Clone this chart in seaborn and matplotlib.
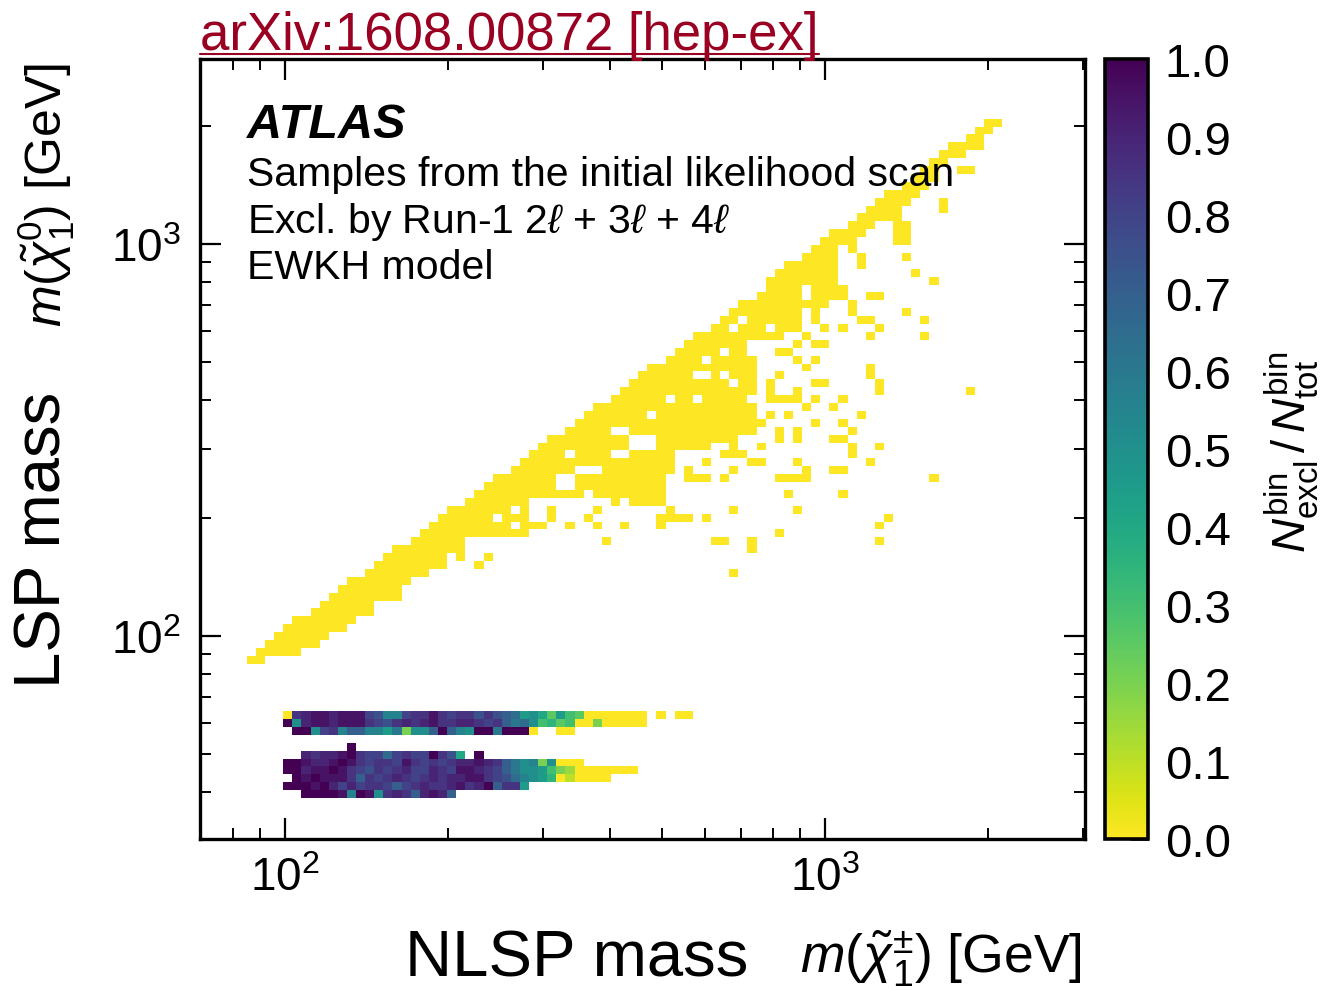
import numpy as np
import pandas as pd
import matplotlib
matplotlib.use("Agg")
import matplotlib.pyplot as plt
from matplotlib.ticker import LogLocator, NullFormatter
from matplotlib.lines import Line2D
import seaborn as sns

# ---------------- binning of the 2D histogram (log10 of mass / GeV) ----------------
NLSP_LOG_START, NLSP_LOG_WIDTH = 1.99685, 0.016852
LSP_LOG_START, LSP_LOG_WIDTH = 1.58673, 0.020153

# ---------------- not-excluded samples (fraction 0): diagonal band ----------------
band_nlsp_bin = list(range(-4, 79))
band_lsp_top = [17, 18, 19, 20, 21, 22, 22, 23, 24, 25, 26, 27, 27, 28, 29, 30, 31, 31,
                32, 33, 34, 35, 36, 36, 37, 38, 39, 40, 40, 41, 42, 43, 44, 45, 45, 46,
                47, 48, 49, 49, 50, 51, 52, 53, 54, 54, 55, 56, 57, 58, 58, 59, 60, 61,
                62, 62, 63, 65, 66, 67, 67, 68, 69, 70, 71, 71, 72, 73, 74, 75, 76, 76,
                77, 78, 79, 80, 81, 82, 82, 83, 84, 85, 85]
band_lsp_bottom = [17, 17, 18, 18, 18, 18, 19, 19, 20, 21, 21, 22, 23, 23, 25, 25, 25, 27,
                   28, 28, 29, 29, 31, 30, 33, 33, 33, 33, 33, 33, 33, 38, 38, 38, 38, 38,
                   38, 39, 38, 38, 37, 38, 37, 37, 37, 37, 41, 44, 44, 44, 44, 45, 45, 45,
                   46, 46, 58, 58, 58, 59, 59, 62, 60, 62, 63, 70, 69, 71, 72, 73, 73, 70,
                   75, 76, 77, 78, 80, 81, 81, 82, 82, 84, 85]

# empty cells inside the band
hole_nlsp_bin = [23, 25, 25, 30, 31, 30, 31, 31, 32, 33, 34, 36, 37, 38, 39, 40, 38, 39, 40,
                 36, 37, 40, 42, 45, 51, 45, 46, 48, 49, 46, 48, 49, 50, 51, 51, 53, 57, 57]
hole_lsp_bin = [35, 36, 34, 39, 39, 40, 40, 43, 41, 41, 41, 43, 43, 44, 44, 44, 45, 45, 45,
                46, 46, 48, 50, 50, 50, 53, 53, 53, 52, 55, 56, 59, 60, 56, 57, 59, 63, 64]

# isolated cells below the band
dot_nlsp_bin = [68, 70, 70, 61, 64, 65, 63, 64, 62, 62, 59, 58, 59, 57, 56, 54, 55, 56, 58,
                57, 54, 53, 53, 58, 59, 64, 64, 65, 65, 56, 56, 53, 54, 55, 58, 61, 57, 60,
                63, 65, 58, 61, 62, 60, 61, 62, 62, 64, 60, 61, 71, 61, 54, 55, 56, 57, 57,
                56, 55, 56, 66, 65, 65, 54, 51, 51, 47, 48, 49, 35, 49, 46, 42, 42, 43, 44,
                41, 41, 37, 34, 33, 34, 31, 28, 29, 29, 21, 22, 27, 44, 45, 46, 44, 48, 49,
                46, 48, 52, 51, 52, 49, 49, 50, 54, 54, 56, 56, 49, 50, 51, 52, 49, 53, 55,
                61, 61, 64, 65, 68, 69, 71, 72, 72, 74, 75, 75, 63, 63, 68, 68, 68, 52]
dot_lsp_bin = [61, 60, 58, 59, 58, 59, 60, 60, 61, 62, 59, 57, 57, 58, 57, 56, 56, 55, 55,
               54, 53, 51, 52, 52, 52, 53, 54, 51, 52, 50, 51, 50, 50, 50, 50, 50, 49, 49,
               48, 44, 47, 47, 46, 45, 45, 43, 44, 42, 41, 41, 40, 38, 40, 40, 40, 40, 41,
               42, 38, 36, 35, 34, 32, 33, 31, 32, 32, 32, 28, 32, 36, 35, 35, 36, 35, 35,
               34, 35, 34, 34, 35, 36, 34, 34, 35, 36, 29, 30, 34, 40, 40, 40, 41, 40, 41,
               42, 43, 44, 42, 42, 43, 44, 43, 45, 46, 45, 46, 47, 47, 47, 47, 48, 48, 48,
               63, 64, 63, 63, 68, 66, 65, 74, 75, 79, 79, 51, 67, 68, 70, 71, 72, 47]

# ---------------- excluded region: fraction per cell, one list per LSP bin ----------------
nan = np.nan
frac_lsp0 = [1.0, 1.0, 1.0, 1.0, 0.95, 0.55, 1.0, 0.95, 0.5, 0.85,
             0.9, 0.85, 0.7, 0.9, 0.95, 0.9, 0.7]
frac_lsp1 = [1.0, 1.0, 1.0, 0.95, 1.0, 0.9, 0.8, 0.9, 0.8, 0.85,
             0.85, 0.8, 0.7, 0.8, 0.85, 0.9, 0.85, 0.85, 0.9, 0.95,
             0.85, 0.9, 1.0, 0.7, 0.85, 0.85, 0.45]
frac_lsp2 = [1.0, 0.95, 1.0, 0.95, 0.95, 0.95, 0.85, 0.7, 0.85, 0.8,
             0.85, 0.9, 0.85, 0.8, 0.85, 0.9, 0.85, 0.9, 0.9, 0.95,
             0.95, 0.85, 0.8, 0.75, 0.65, 0.55, 0.5, 0.45, 0.35, 0.0,
             0.1, 0.0, 0.0, 0.0, 0.0]
frac_lsp3 = [1.0, 1.0, 0.9, 0.95, 0.95, 1.0, 0.95, 0.85, 0.8, 0.75,
             0.85, 0.8, 0.85, 0.9, 0.8, 0.8, 0.9, 0.85, 0.8, 0.95,
             0.95, 0.9, 0.85, 0.8, 0.7, 0.6, 0.5, 0.5, 0.45, 0.3,
             0.2, 0.15, 0.0, 0.0, 0.0, 0.0, 0.0, 0.0, 0.0]
frac_lsp4 = [1.0, 1.0, 0.95, 0.9, 0.9, 0.95, 1.0, 0.95, 0.85, 0.8,
             0.85, 0.85, 0.8, 0.95, 0.85, 0.8, 0.85, 0.8, 0.85, 0.9,
             0.9, 0.95, 0.9, 0.85, 0.7, 0.6, 0.5, 0.55, 0.2, 0.5,
             0.0, 0.0, 0.0]
frac_lsp5 = [0.9, 0.85, 0.9, 0.9, 0.95, 1.0, 0.85, 0.8, 0.8, 0.65,
             0.8, 0.85, 0.8, 0.8, 1.0, 0.85, 0.75, 0.4, nan, 1.0]
frac_lsp6 = [1.0]
frac_lsp8 = [1.0, 1.0, 0.5, 0.8, 0.85, 0.55, 0.7, 0.7, 0.55, 0.55,
             0.45, 0.6, 0.2, 0.5, 0.5, 0.7, 1.0, 0.7, 0.55, 0.5,
             1.0, 1.0, 0.6, 1.0, 1.0, 1.0, 0.0, nan, nan, 0.0, 0.0]
frac_lsp9 = [1.0, 0.5, 0.9, 0.95, 0.95, 0.9, 0.95, 0.95, 0.95, 0.85,
             0.8, 0.75, 0.85, 0.9, 0.85, 0.9, 0.95, 0.85, 0.85, 0.9,
             0.9, 0.85, 0.8, 0.85, 0.7, 0.6, 0.65, 0.5, 0.3, 0.35,
             0.25, 0.3, 0.0, 0.0, 0.2, 0.0, 0.0, 0.0, 0.0, 0.0]
frac_lsp10 = [0.0, 0.85, 0.9, 0.95, 0.95, 0.9, 0.95, 0.95, 0.95, 0.8,
              0.75, 0.55, 0.55, 0.8, 0.85, 0.85, 0.95, 0.85, 0.8, 0.85,
              0.85, 0.75, 0.85, 0.75, 0.7, 0.65, 0.45, 0.5, 0.4, 0.25,
              0.45, 0.3, 0.25, 0.0, 0.0, 0.0, 0.0, 0.0, 0.0, 0.0,
              nan, 0.0, nan, 0.0, 0.0]
excl_lsp_bin = [0, 1, 2, 3, 4, 5, 6, 8, 9, 10]
excl_first_nlsp_bin = [2, 0, 1, 0, 0, 2, 7, 1, 0, 0]
excl_fracs = [frac_lsp0, frac_lsp1, frac_lsp2, frac_lsp3, frac_lsp4,
              frac_lsp5, frac_lsp6, frac_lsp8, frac_lsp9, frac_lsp10]

# ---------------- assemble cells ----------------
cells = {}
holes = set(zip(hole_nlsp_bin, hole_lsp_bin))
for c, top, bot in zip(band_nlsp_bin, band_lsp_top, band_lsp_bottom):
    for r in range(bot, top + 1):
        if (c, r) not in holes:
            cells[(c, r)] = 0.0
for c, r in zip(dot_nlsp_bin, dot_lsp_bin):
    cells[(c, r)] = 0.0
for r, c0, fr in zip(excl_lsp_bin, excl_first_nlsp_bin, excl_fracs):
    for i, f in enumerate(fr):
        if not np.isnan(f):
            cells[(c0 + i, r)] = f

cbin = np.array([k[0] for k in cells])
rbin = np.array([k[1] for k in cells])
frac = np.array(list(cells.values()))
df = pd.DataFrame({
    "nlsp": 10 ** (NLSP_LOG_START + NLSP_LOG_WIDTH * (cbin + 0.5)),
    "lsp": 10 ** (LSP_LOG_START + LSP_LOG_WIDTH * (rbin + 0.5)),
    "frac": frac,
})
df["w"] = df["frac"] + 1e-3  # keeps zero-fraction bins visible (above thresh)

# ---------------- style ----------------
sns.set_style("ticks")
plt.rcParams["font.family"] = ["Liberation Sans", "DejaVu Sans"]
plt.rcParams["mathtext.fontset"] = "custom"
plt.rcParams["mathtext.rm"] = "Liberation Sans"
plt.rcParams["mathtext.it"] = "Liberation Sans:italic"
plt.rcParams["mathtext.bf"] = "Liberation Sans:bold"
plt.rcParams["axes.linewidth"] = 2.4
for key in ("text.color", "axes.labelcolor", "xtick.color", "ytick.color",
            "axes.edgecolor"):
    plt.rcParams[key] = "black"

fig = plt.figure(figsize=(13.4, 9.95), dpi=100)
ax = fig.add_axes([200 / 1340, 155 / 995, 885 / 1340, 780 / 995])
cax = fig.add_axes([1105 / 1340, 155 / 995, 43 / 1340, 780 / 995])

sns.histplot(
    data=df, x="nlsp", y="lsp", weights="w", ax=ax,
    log_scale=(True, True),
    binwidth=(NLSP_LOG_WIDTH, LSP_LOG_WIDTH),
    binrange=((NLSP_LOG_START - 6 * NLSP_LOG_WIDTH, NLSP_LOG_START + 81 * NLSP_LOG_WIDTH),
              (LSP_LOG_START - LSP_LOG_WIDTH, LSP_LOG_START + 90 * LSP_LOG_WIDTH)),
    cmap="viridis_r", vmin=0, vmax=1, thresh=1e-4,
    cbar=True, cbar_ax=cax,
)

ax.set_xlim(69.6, 3030)
ax.set_ylim(30.35, 2965)
ax.set_xlabel("")
ax.set_ylabel("")
for a in (ax.xaxis, ax.yaxis):
    a.set_major_locator(LogLocator(base=10))
    a.set_minor_locator(LogLocator(base=10, subs=np.arange(2, 10)))
    a.set_minor_formatter(NullFormatter())
ax.tick_params(which="both", direction="in", top=True, right=True, labelsize=33,
               color="black", labelcolor="black")
ax.tick_params(which="major", length=15, width=1.6)
ax.tick_params(which="minor", length=8, width=1.4)
ax.tick_params(axis="x", pad=12)
ax.tick_params(axis="y", pad=14)
for s in ax.spines.values():
    s.set_linewidth(2.4)
    s.set_color("black")
    s.set_visible(True)

cbar = ax.collections[0].colorbar
cbar.set_ticks(np.round(np.arange(0, 1.01, 0.1), 1))
cbar.set_ticklabels([f"{v:.1f}" for v in np.arange(0, 1.01, 0.1)])
cbar.minorticks_off()
cbar.outline.set_linewidth(2.6)
cbar.outline.set_edgecolor("black")
cax.tick_params(direction="in", length=13, width=1.8, labelsize=34, pad=12,
                color="black", labelcolor="black")

# ---------------- texts ----------------
ax.text(0.053, 0.9, "ATLAS", transform=ax.transAxes, fontsize=35,
        fontweight="bold", fontstyle="italic", va="baseline")
ax.text(0.053, 0.838, "Samples from the initial likelihood scan",
        transform=ax.transAxes, fontsize=29.5, va="baseline")
ax.text(0.053, 0.778, r"Excl. by Run-1 2$\ell$ + 3$\ell$ + 4$\ell$",
        transform=ax.transAxes, fontsize=29.5, va="baseline")
ax.text(0.053, 0.719, "EWKH model", transform=ax.transAxes, fontsize=29.5,
        va="baseline")

fig.text(405 / 1340, 0.019, "NLSP mass", fontsize=47, va="baseline")
fig.text(800 / 1340, 0.022, r"$m(\tilde{\chi}^{\pm}_{1})$ [GeV]",
         fontsize=38.5, va="baseline")
fig.text(44 / 1340, 1 - 540 / 995, "LSP mass", fontsize=47, rotation=90,
         ha="center", va="center")
fig.text(46 / 1340, 1 - 195 / 995, r"$m(\tilde{\chi}^{0}_{1})$ [GeV]",
         fontsize=36, rotation=90, ha="center", va="center")
fig.text(1292 / 1340, 1 - 452 / 995,
         r"$N^{\mathrm{bin}}_{\mathrm{excl}}\,/\,N^{\mathrm{bin}}_{\mathrm{tot}}$",
         fontsize=34, rotation=90, ha="center", va="center")

arx = fig.text(200 / 1340, 1 - 50 / 995, "arXiv:1608.00872 [hep-ex]",
               fontsize=38, color="#990022", va="baseline")
fig.canvas.draw()
bb = arx.get_window_extent()
W, H = fig.canvas.get_width_height()
fig.add_artist(Line2D([bb.x0 / W, bb.x1 / W], [1 - 55 / 995, 1 - 55 / 995],
                      transform=fig.transFigure, color="#990022", lw=1.5))

fig.savefig("out.png", dpi=100)
